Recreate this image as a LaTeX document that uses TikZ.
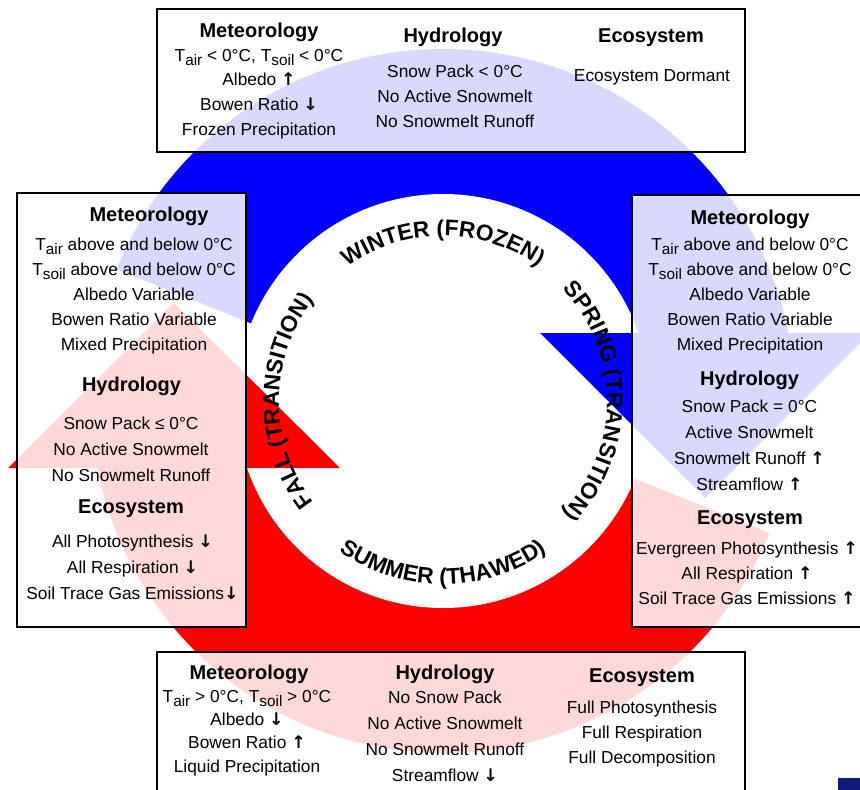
\documentclass[tikz,border=0pt]{standalone}
\usepackage{fontspec}
\setmainfont{Liberation Sans}
\newfontfamily\arrowfont{DejaVu Sans}
\usetikzlibrary{decorations.text,fit}
\definecolor{frozen}{RGB}{0,0,255}
\definecolor{thawed}{RGB}{255,0,0}
\definecolor{navy}{RGB}{16,24,120}
\newcommand\lowtxt[1]{\raisebox{-0.5ex}{\fontsize{11.5}{12}\selectfont #1}}
\newcommand\incr{{\arrowfont\bfseries ↑}}
\newcommand\decr{{\arrowfont\bfseries ↓}}

\begin{document}
\begin{tikzpicture}[x=0.75pt,y=-0.75pt,
 panel/.style={draw=black,line width=1.5pt,fill=white,fill opacity=0.85,text opacity=1,inner sep=0pt},
 head/.style={font=\fontsize{15}{18}\selectfont\bfseries,anchor=base,inner sep=0pt},
 entry/.style={font=\fontsize{13}{#1}\selectfont,align=center,anchor=base,inner sep=0pt},
 entry/.default=18.75,
 season/.style={decorate,decoration={text along path,text align=center,
   text={|\fontsize{17}{17}\selectfont\bfseries|#1}}}]
\useasboundingbox (0,0) rectangle (860,789);
\coordinate (c) at (443,401);
% frozen half of the ring
\begin{scope}
\clip (c) -- ++(202:600) -- (-113,-20) -- (900,-20) -- (900,333) -- (443,333) -- cycle;
\fill[frozen] (c) circle[radius=352];
\end{scope}
% thawed half of the ring
\begin{scope}
\clip (c) -- ++(22:600) -- (999,820) -- (-20,820) -- (-20,468) -- (443,468) -- cycle;
\fill[thawed] (c) circle[radius=352];
\end{scope}
\fill[white] (c) circle[radius=207];
% arrow heads
\fill[frozen] (540,333) -- (870,333) -- (705,498) -- cycle;
\fill[thawed] (8,468) -- (340,468) -- (174,303) -- cycle;
% season names
\path[season={WINTER (FROZEN)}] ([shift={(210:165)}]c) arc[start angle=210,end angle=330,radius=165];
\path[season={SPRING (TRANSITION)}] ([shift={(300:164)}]c) arc[start angle=300,end angle=420,radius=164];
\path[season={FALL (TRANSITION)}] ([shift={(120:164)}]c) arc[start angle=120,end angle=240,radius=164];
\path[season={SUMMER (THAWED)}] ([shift={(150:183)}]c) arc[start angle=150,end angle=30,radius=183];
% panels
\node[panel,fit={(157,9)(745,152)}] (winterbox) {};
\node[panel,fit={(17,193)(246,627)}] (fallbox) {};
\node[panel,fit={(632,195)(880,627)}] (springbox) {};
\node[panel,fit={(157,652)(745,800)}] (summerbox) {};
% winter panel (lists sit on their last line)
\node[head] (wmet) at (259,37) {Meteorology};
\node[entry=18.4] (wmetl) at (259,135) {T\lowtxt{air} < 0°C, T\lowtxt{soil} < 0°C\\Albedo \incr\\Bowen Ratio \decr\\Frozen Precipitation};
\node[head] (whyd) at (453,42) {Hydrology};
\node[entry] (whydl) at (455,127) {Snow Pack < 0°C\\No Active Snowmelt\\No Snowmelt Runoff};
\node[head] (weco) at (651,42) {Ecosystem};
\node[entry] (wecol) at (652,81) {Ecosystem Dormant};
% fall panel
\node[head] (fmet) at (149,221) {Meteorology};
\node[entry] (fmetl) at (134,350) {T\lowtxt{air} above and below 0°C\\T\lowtxt{soil} above and below 0°C\\Albedo Variable\\Bowen Ratio Variable\\Mixed Precipitation};
\node[head] (fhyd) at (131.5,391) {Hydrology};
\node[entry=19.5] (fhydl) at (131,481) {Snow Pack ≤ 0°C\\No Active Snowmelt\\No Snowmelt Runoff};
\node[head] (feco) at (131,513) {Ecosystem};
\node[entry=19.5] (fecol) at (132.5,599) {All Photosynthesis \decr\\All Respiration \decr\\Soil Trace Gas Emissions\decr};
% spring panel
\node[head] (smet) at (750,224) {Meteorology};
\node[entry] (smetl) at (750,350) {T\lowtxt{air} above and below 0°C\\T\lowtxt{soil} above and below 0°C\\Albedo Variable\\Bowen Ratio Variable\\Mixed Precipitation};
\node[head] (shyd) at (749.5,385) {Hydrology};
\node[entry=19.3] (shydl) at (749.5,490) {Snow Pack = 0°C\\Active Snowmelt\\Snowmelt Runoff \incr\\Streamflow \incr};
\node[head] (seco) at (750,524) {Ecosystem};
\node[entry=18.4] (secol) at (747,604) {Evergreen Photosynthesis \incr\\All Respiration \incr\\Soil Trace Gas Emissions \incr};
% summer panel
\node[head] (umet) at (249,679) {Meteorology};
\node[entry=17.5] (umetl) at (247,772) {T\lowtxt{air} > 0°C, T\lowtxt{soil} > 0°C\\Albedo \decr\\Bowen Ratio \incr\\Liquid Precipitation};
\node[head] (uhyd) at (445,679) {Hydrology};
\node[entry=19.5] (uhydl) at (445,781) {No Snow Pack\\No Active Snowmelt\\No Snowmelt Runoff\\Streamflow \decr};
\node[head] (ueco) at (642,682) {Ecosystem};
\node[entry] (uecol) at (642,763) {Full Photosynthesis\\Full Respiration\\Full Decomposition};
\fill[navy] (838,778) rectangle (870,800);
\end{tikzpicture}
\end{document}
